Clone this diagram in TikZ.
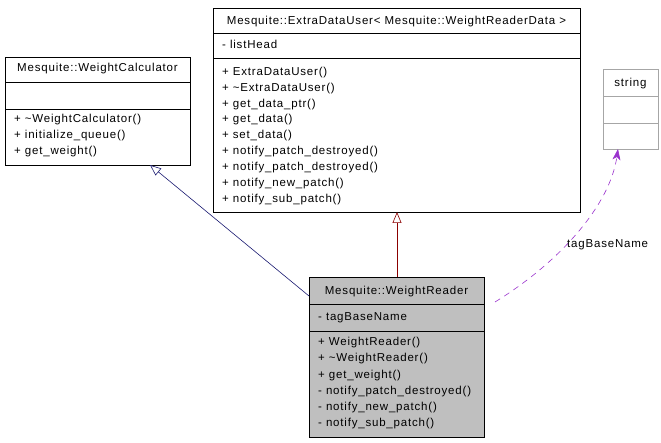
\documentclass[tikz,border=0pt]{standalone}
\usepackage{fontspec}
\setmainfont{Liberation Sans}[LetterSpace=7]
\usetikzlibrary{arrows.meta,calc}
\definecolor{navyline}{HTML}{191970}
\definecolor{redline}{HTML}{8B0000}
\definecolor{purpleline}{HTML}{9A32CD}
\definecolor{boxgray}{HTML}{BFBFBF}
\begin{document}
\begin{tikzpicture}[x=1pt,y=-1pt,
  classbox/.style={draw=black,line width=0.8pt,anchor=north west,inner sep=0pt,outer sep=0pt},
  txt/.style={anchor=base west,inner sep=0pt,font=\fontsize{11.5}{13}\selectfont},
  ctxt/.style={anchor=base,inner sep=0pt,font=\fontsize{11.5}{13}\selectfont},
  divider/.style={line width=0.8pt},
  inherit/.style={line width=0.6pt,-{Triangle[open,length=11pt,width=9pt,fill=white]}},
  usage/.style={line width=0.6pt,dash pattern=on 6pt off 5pt,-{Stealth[length=11pt,width=8pt,inset=3pt]}}]
\useasboundingbox (0,0) rectangle (661,443);
% WeightCalculator
\node[classbox,minimum width=185pt,minimum height=108pt] (wc) at (5,57) {};
\draw[divider] (5,82) -- (190,82);
\draw[divider] (5,109) -- (190,109);
\node[ctxt] (wct) at (97.5,72) {Mesquite::WeightCalculator};
\node[txt] (wc1) at (14,123) {+ \textasciitilde WeightCalculator()};
\node[txt] (wc2) at (14,139) {+ initialize\_queue()};
\node[txt] (wc3) at (14,155) {+ get\_weight()};
% ExtraDataUser
\node[classbox,minimum width=367pt,minimum height=204pt] (edu) at (213,8) {};
\draw[divider] (213,33) -- (580,33);
\draw[divider] (213,58) -- (580,58);
\node[ctxt] (edut) at (396.5,25) {Mesquite::ExtraDataUser< Mesquite::WeightReaderData >};
\node[txt] (edua) at (222,49) {- listHead};
\node[txt] (edu1) at (222,76) {+ ExtraDataUser()};
\node[txt] (edu2) at (222,92) {+ \textasciitilde ExtraDataUser()};
\node[txt] (edu3) at (222,107.5) {+ get\_data\_ptr()};
\node[txt] (edu4) at (222,123) {+ get\_data()};
\node[txt] (edu5) at (222,139) {+ set\_data()};
\node[txt] (edu6) at (222,155) {+ notify\_patch\_destroyed()};
\node[txt] (edu7) at (222,171) {+ notify\_patch\_destroyed()};
\node[txt] (edu8) at (222,187) {+ notify\_new\_patch()};
\node[txt] (edu9) at (222,203) {+ notify\_sub\_patch()};
% string
\node[classbox,draw=gray!70,line width=0.6pt,minimum width=55pt,minimum height=80pt] (str) at (603,69) {};
\draw[gray!70,line width=0.6pt] (603,96) -- (658,96);
\draw[gray!70,line width=0.6pt] (603,123) -- (658,123);
\node[ctxt] (strt) at (630.5,87) {string};
% WeightReader
\node[classbox,fill=boxgray,minimum width=175pt,minimum height=160pt] (wr) at (309,277) {};
\draw[divider] (309,304) -- (484,304);
\draw[divider] (309,331) -- (484,331);
\node[ctxt] (wrt) at (396.5,295) {Mesquite::WeightReader};
\node[txt] (wra) at (318,321) {- tagBaseName};
\node[txt] (wr1) at (318,346) {+ WeightReader()};
\node[txt] (wr2) at (318,362) {+ \textasciitilde WeightReader()};
\node[txt] (wr3) at (318,378) {+ get\_weight()};
\node[txt] (wr4) at (318,394) {- notify\_patch\_destroyed()};
\node[txt] (wr5) at (318,410) {- notify\_new\_patch()};
\node[txt] (wr6) at (318,426) {- notify\_sub\_patch()};
% connectors
\draw[inherit,navyline] ($(wr.north west)+(0,19)$) -- ($(wc.south west)+(145,0)$);
\draw[inherit,redline] ($(wr.north west)+(88,0)$) -- ($(edu.south west)+(184,0)$);
\coordinate (usestart) at (495,302);
\draw[usage,purpleline] (usestart) .. controls (560,262) and (610,205) .. ($(str.south west)+(15,0)$);
\node[txt] (lbl) at (567,248) {tagBaseName};
\end{tikzpicture}
\end{document}
